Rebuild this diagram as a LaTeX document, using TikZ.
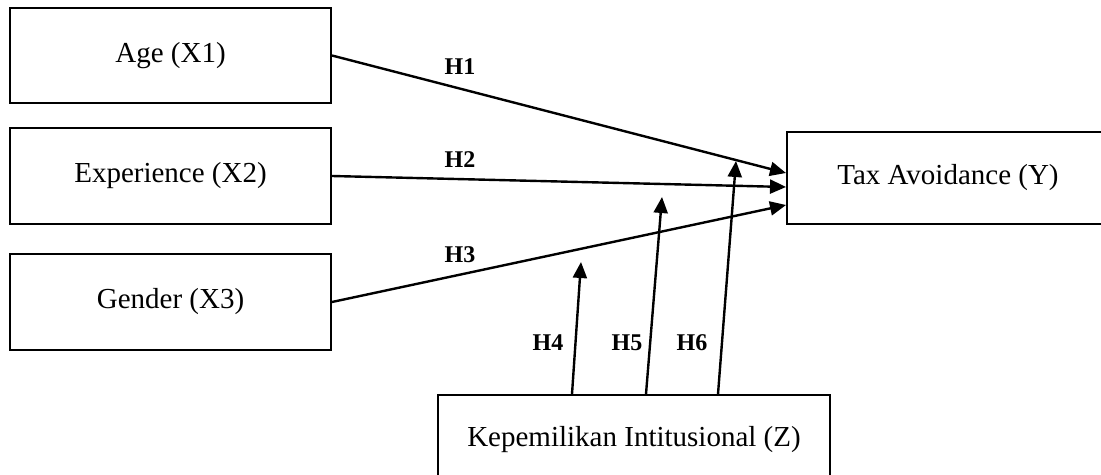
\documentclass[tikz,border=0pt]{standalone}
\usepackage{fontspec}
\setmainfont{Liberation Serif}
\usetikzlibrary{arrows.meta, positioning, calc}

\begin{document}
\begin{tikzpicture}[
        x=0.5pt, y=-0.5pt,
        box/.style={draw=black, line width=1pt, fill=white,
                     minimum width=160.5pt, minimum height=47.5pt,
                     inner sep=0pt, font=\fontsize{14.5}{17}\selectfont, align=center},
        hyp/.style={font=\fontsize{12}{14}\selectfont\bfseries},
        arr/.style={-{Triangle[length=8pt, width=7pt]}, line width=1.2pt, black}
      ]
        \useasboundingbox (0,0) rectangle (1101,475);

        \node[box] (age) at (170.5,55.5) {Age (X1)};
        \node[box, minimum height=48pt] (exp) at (170.5,176) {Experience (X2)};
        \node[box, minimum height=48pt] (gen) at (170.5,302) {Gender (X3)};
        \node[box, minimum width=161pt, minimum height=46pt] (tax) at (948,178) {Tax Avoidance (Y)};
        \node[box, minimum width=196pt, minimum height=45pt] (kep) at (634,440) {Kepemilikan Intitusional (Z)};

        % moderation tips
        \coordinate (t4) at (581,262);
        \coordinate (t5) at (662,197);
        \coordinate (t6) at (736,161);

        \draw[arr] (age.east) -- ($(tax.west)+(0,-5)$);
        \draw[arr] (exp.east) -- ($(tax.west)+(0,9)$);
        \draw[arr] (gen.east) -- ($(tax.west)+(0,27)$);
        \draw[arr] ($(kep.north)+(-62,0)$) -- (t4);
        \draw[arr] ($(kep.north)+(12,0)$) -- (t5);
        \draw[arr] ($(kep.north)+(84,0)$) -- (t6);

        \node[hyp] (h1) at (460,67) {H1};
        \node[hyp] (h2) at (460,160) {H2};
        \node[hyp] (h3) at (460,255) {H3};
        \node[hyp] (h4) at (548,343) {H4};
        \node[hyp] (h5) at (627,343) {H5};
        \node[hyp] (h6) at (692,343) {H6};
      \end{tikzpicture}
\end{document}
